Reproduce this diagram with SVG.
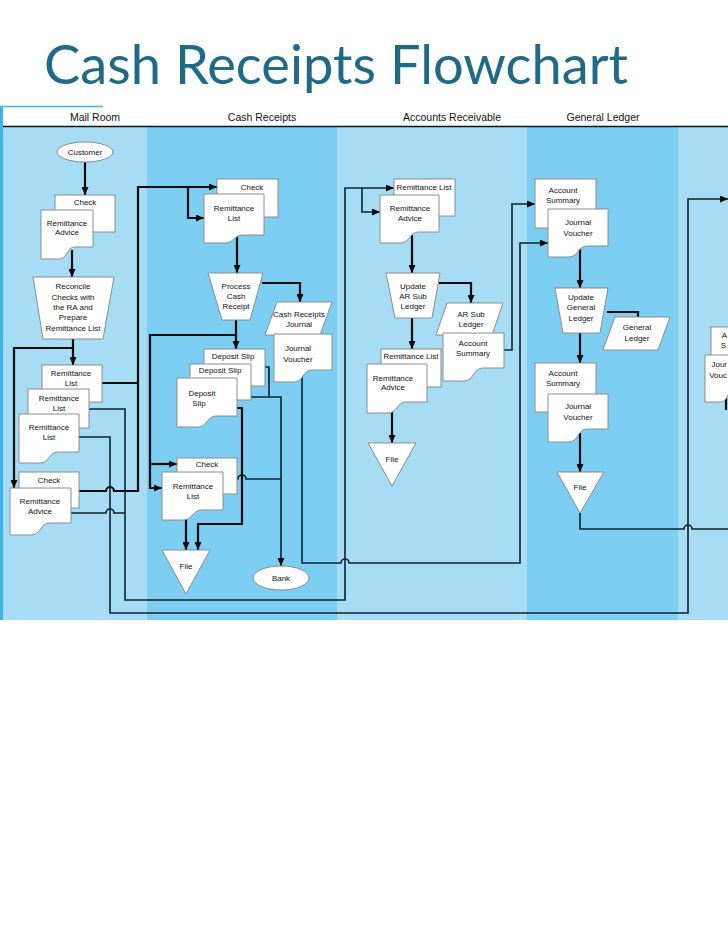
<svg xmlns="http://www.w3.org/2000/svg" width="728" height="943" viewBox="0 0 728 943">
<style>
.n{fill:#fff;stroke:#8c8c8c;stroke-width:1}
.t{font-family:"Liberation Sans",Arial,sans-serif;font-size:8px;fill:#111;text-anchor:middle}
.te{font-family:"Liberation Sans",Arial,sans-serif;font-size:8px;fill:#111;text-anchor:end}
.h{font-family:"Liberation Sans",Arial,sans-serif;font-size:10.5px;fill:#111;text-anchor:middle}
.c{fill:none;stroke:#0a0a0a;stroke-width:2.2}
.cl{fill:none;stroke:#10202e;stroke-width:1.6}
</style>
<defs>
<marker id="ar" markerUnits="userSpaceOnUse" markerWidth="9" markerHeight="7" refX="8" refY="3.5" orient="auto">
<path d="M0,0 L8,3.5 L0,7 z" fill="#0a0a0a"/>
</marker>
</defs>
<rect width="728" height="943" fill="#fff"/>
<text x="44" y="84" font-family="Lato, 'Open Sans', sans-serif" font-size="54" fill="#1f6b87" textLength="584" lengthAdjust="spacingAndGlyphs">Cash Receipts Flowchart</text>
<g id="lanes">
<rect x="3" y="127" width="144" height="493" fill="#a7dcf5"/>
<rect x="147" y="127" width="190" height="493" fill="#7ccef3"/>
<rect x="337" y="127" width="190" height="493" fill="#a7dcf5"/>
<rect x="527" y="127" width="151" height="493" fill="#7ccef3"/>
<rect x="678" y="127" width="50" height="493" fill="#a7dcf5"/>
<path d="M0,106.5 H103" stroke="#3fb4ea" stroke-width="1.5" fill="none"/>
<rect x="0" y="106" width="3" height="514" fill="#3fb4ea"/>
<path d="M3,126.5 H728" stroke="#111" stroke-width="1.6" fill="none"/>
<text class="h" x="95" y="121">Mail Room</text>
<text class="h" x="262" y="121">Cash Receipts</text>
<text class="h" x="452" y="121">Accounts Receivable</text>
<text class="h" x="603" y="121">General Ledger</text>
</g>
<g id="connectors">
<path class="c" d="M85,162 V195" marker-end="url(#ar)"/>
<path class="c" d="M72,250 V277" marker-end="url(#ar)"/>
<path class="c" d="M73,339 V365" marker-end="url(#ar)"/>
<path class="c" d="M73,348 H14 V488" marker-end="url(#ar)"/>
<path class="c" d="M100,383 H138"/>
<path class="c" d="M77,491 H106 A4,4 0 0 1 114,491 H138 V187 H217" marker-end="url(#ar)"/>
<path class="c" d="M188,187 V218 H204" marker-end="url(#ar)"/>
<path class="cl" d="M87,409 H125 V600 H345 V188 H394" marker-end="url(#ar)"/>
<path class="cl" d="M362,188 V212 H380" marker-end="url(#ar)"/>
<path class="cl" d="M69,513 H106 A4,4 0 0 1 114,513 H125"/>
<path class="cl" d="M77,437 H110 V613 H688 V199 H728" marker-end="url(#ar)"/>
<path class="c" d="M237,236 V273" marker-end="url(#ar)"/>
<path class="c" d="M262,283 H300 V302" marker-end="url(#ar)"/>
<path class="c" d="M236,320 V349" marker-end="url(#ar)"/>
<path class="c" d="M236,335 H150 V488 H162" marker-end="url(#ar)"/>
<path class="c" d="M150,464 H177" marker-end="url(#ar)"/>
<path class="cl" d="M263,367 H269 V397"/>
<path class="cl" d="M249,397 H281 V566" marker-end="url(#ar)"/>
<path class="cl" d="M235,479 H238 A4,4 0 0 1 246,479 H281"/>
<path class="c" d="M235,408 H242 V524 H198 V550" marker-end="url(#ar)"/>
<path class="c" d="M186,514 V550" marker-end="url(#ar)"/>
<path class="cl" d="M302,374 V563 H341 A4,4 0 0 1 349,563 H520 V243 H548" marker-end="url(#ar)"/>
<path class="c" d="M412,235 V273" marker-end="url(#ar)"/>
<path class="c" d="M439,283 H471 V303" marker-end="url(#ar)"/>
<path class="cl" d="M502,350 H512 V204 H535" marker-end="url(#ar)"/>
<path class="c" d="M412,318 V349" marker-end="url(#ar)"/>
<path class="c" d="M392,406 V443" marker-end="url(#ar)"/>
<path class="c" d="M580,248 V288" marker-end="url(#ar)"/>
<path class="c" d="M607,312 H638 V317"/>
<path class="c" d="M580,333 V363" marker-end="url(#ar)"/>
<path class="c" d="M580,433 V472" marker-end="url(#ar)"/>
<path class="cl" d="M580,513 V529 H684 A4,4 0 0 1 692,529 H728"/>
<path class="c" d="M726,398 V410"/>
</g>
<g id="mr-customer"><ellipse class="n" cx="85" cy="152" rx="28" ry="10"/><text class="t" x="85" y="155">Customer</text></g>
<g id="mr-check1"><rect class="n" x="55" y="195" width="60" height="37"/><text class="t" x="85" y="205">Check</text></g>
<g id="mr-ra1"><path class="n" d="M41,210 H93 V247 H74.8 C67,247 67,259 59.2,259 H41 Z"/><text class="t" x="67" y="226">Remittance</text><text class="t" x="67" y="235">Advice</text></g>
<g id="mr-reconcile"><path class="n" d="M33,277 H114 L103,339 H43 Z"/><text class="t" x="73" y="289">Reconcile</text><text class="t" x="73" y="299.5">Checks with</text><text class="t" x="73" y="310">the RA and</text><text class="t" x="73" y="320">Prepare</text><text class="t" x="73" y="331">Remittance List</text></g>
<g id="mr-rl1"><rect class="n" x="42" y="365" width="60" height="37"/><text class="t" x="71" y="376">Remittance</text><text class="t" x="71" y="386">List</text></g>
<g id="mr-rl2"><rect class="n" x="28" y="389" width="61" height="39"/><text class="t" x="59" y="401">Remittance</text><text class="t" x="59" y="411">List</text></g>
<g id="mr-rl3"><path class="n" d="M19,414 H79 V452 H58 C49,452 49,463 40,463 H19 Z"/><text class="t" x="49" y="430">Remittance</text><text class="t" x="49" y="440">List</text></g>
<g id="mr-check2"><rect class="n" x="19" y="472" width="60" height="36"/><text class="t" x="49" y="483">Check</text></g>
<g id="mr-ra2"><path class="n" d="M10,488 H71 V523 H49.6 C40.5,523 40.5,535 31.4,535 H10 Z"/><text class="t" x="40" y="504">Remittance</text><text class="t" x="40" y="514">Advice</text></g>
<g id="cr-check"><rect class="n" x="217" y="179" width="61" height="38"/><text class="t" x="252" y="190">Check</text></g>
<g id="cr-rl"><path class="n" d="M204,194 H264 V235 H243 C234,235 234,243 225,243 H204 Z"/><text class="t" x="234" y="211">Remittance</text><text class="t" x="234" y="221">List</text></g>
<g id="cr-process"><path class="n" d="M208,273 H263 L250,320 H222 Z"/><text class="t" x="236" y="289">Process</text><text class="t" x="236" y="299">Cash</text><text class="t" x="236" y="309">Receipt</text></g>
<g id="cr-journal"><path class="n" d="M277,302 H332 L320,335 H265 Z"/><text class="t" x="299" y="317">Cash Receipts</text><text class="t" x="299" y="327">Journal</text></g>
<g id="cr-jv"><path class="n" d="M274,334 H332 V370 H311.7 C303,370 303,382 294.3,382 H274 Z"/><text class="t" x="298" y="351">Journal</text><text class="t" x="298" y="362">Voucher</text></g>
<g id="cr-ds1"><rect class="n" x="204" y="349" width="61" height="37"/><text class="t" x="233" y="359">Deposit Slip</text></g>
<g id="cr-ds2"><rect class="n" x="190" y="364" width="61" height="36"/><text class="t" x="220" y="373">Deposit Slip</text></g>
<g id="cr-ds3"><path class="n" d="M177,378 H237 V416 H216 C207,416 207,427 198,427 H177 Z"/><text class="t" x="202" y="396">Deposit</text><text class="t" x="199" y="406">Slip</text></g>
<g id="cr-check2"><rect class="n" x="177" y="458" width="60" height="36"/><text class="t" x="207" y="467">Check</text></g>
<g id="cr-rl2"><path class="n" d="M162,472 H223 V510 H201.6 C192.5,510 192.5,520 183.4,520 H162 Z"/><text class="t" x="193" y="489">Remittance</text><text class="t" x="193" y="499">List</text></g>
<g id="cr-file"><path class="n" d="M162,550 H210 L186,594 Z"/><text class="t" x="186" y="569">File</text></g>
<g id="cr-bank"><ellipse class="n" cx="281" cy="578" rx="28" ry="12"/><text class="t" x="281" y="581">Bank</text></g>
<g id="ar-rl"><rect class="n" x="394" y="179" width="61" height="37"/><text class="t" x="424" y="190">Remittance List</text></g>
<g id="ar-ra"><path class="n" d="M380,195 H439 V232 H418.4 C409.5,232 409.5,243 400.7,243 H380 Z"/><text class="t" x="410" y="211">Remittance</text><text class="t" x="410" y="221">Advice</text></g>
<g id="ar-update"><path class="n" d="M386,273 H440 L432,318 H395 Z"/><text class="t" x="413" y="289">Update</text><text class="t" x="413" y="299">AR Sub</text><text class="t" x="413" y="309">Ledger</text></g>
<g id="ar-subledger"><path class="n" d="M447,303 H503 L492,335 H436 Z"/><text class="t" x="471" y="317">AR Sub</text><text class="t" x="471" y="327">Ledger</text></g>
<g id="ar-summary"><path class="n" d="M443,333 H504 V368 H482.7 C473.5,368 473.5,381 464.4,381 H443 Z"/><text class="t" x="473" y="346">Account</text><text class="t" x="473" y="356">Summary</text></g>
<g id="ar-rl2"><rect class="n" x="381" y="349" width="60" height="38"/><text class="t" x="411" y="359">Remittance List</text></g>
<g id="ar-ra2"><path class="n" d="M367,364 H427 V402 H406 C397,402 397,413 388,413 H367 Z"/><text class="t" x="393" y="381">Remittance</text><text class="t" x="393" y="390">Advice</text></g>
<g id="ar-file"><path class="n" d="M368,443 H416 L392,486 Z"/><text class="t" x="392" y="462">File</text></g>
<g id="gl-summary"><rect class="n" x="535" y="179" width="61" height="49"/><text class="t" x="563" y="193">Account</text><text class="t" x="563" y="203">Summary</text></g>
<g id="gl-jv"><path class="n" d="M548,209 H608 V246 H587 C578,246 578,257 569,257 H548 Z"/><text class="t" x="578" y="225">Journal</text><text class="t" x="578" y="236">Voucher</text></g>
<g id="gl-update"><path class="n" d="M555,288 H608 L600,333 H563 Z"/><text class="t" x="581" y="300">Update</text><text class="t" x="581" y="310">General</text><text class="t" x="581" y="321">Ledger</text></g>
<g id="gl-ledger"><path class="n" d="M615,317 H670 L658,350 H603 Z"/><text class="t" x="637" y="330">General</text><text class="t" x="637" y="341">Ledger</text></g>
<g id="gl-summary2"><rect class="n" x="535" y="363" width="61" height="49"/><text class="t" x="563" y="376">Account</text><text class="t" x="563" y="386">Summary</text></g>
<g id="gl-jv2"><path class="n" d="M548,394 H608 V429 H587 C578,429 578,442 569,442 H548 Z"/><text class="t" x="578" y="409">Journal</text><text class="t" x="578" y="420">Voucher</text></g>
<g id="gl-file"><path class="n" d="M557,472 H604 L580,513 Z"/><text class="t" x="580" y="490">File</text></g>
<g id="rc-summary"><rect class="n" x="711" y="327" width="40" height="42"/><text class="te" x="727" y="338">A</text><text class="te" x="726" y="348">S</text></g>
<g id="rc-jv"><path class="n" d="M705,355 H760 V390 H734 C727.5,390 727.5,402 721,402 H705 Z"/><text class="te" x="727" y="367">Jour</text><text class="te" x="727" y="378">Vouc</text></g>
</svg>
